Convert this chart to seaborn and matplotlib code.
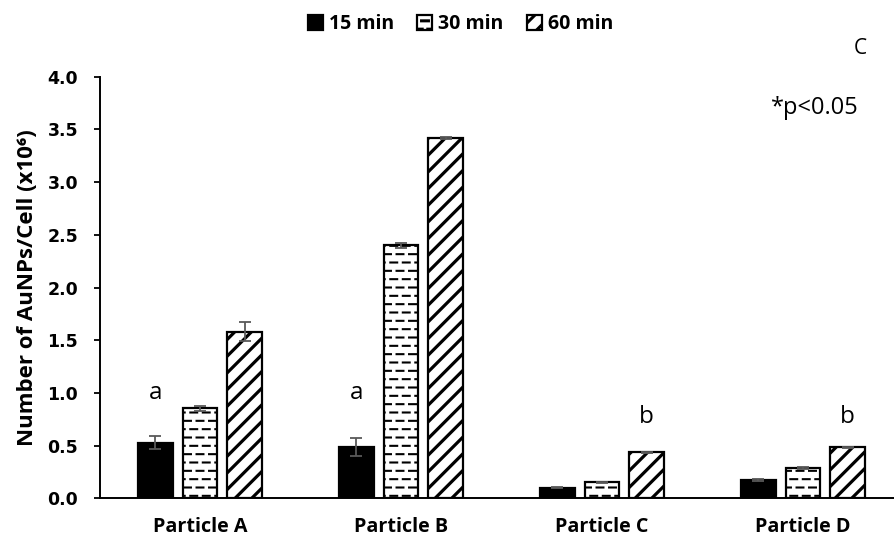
import numpy as np
import pandas as pd
import matplotlib
matplotlib.use("Agg")
import matplotlib.pyplot as plt
import matplotlib.hatch as mhatch
from matplotlib.path import Path
import seaborn as sns

# ---------------- data ----------------
particles = ["Particle A", "Particle B", "Particle C", "Particle D"]
times = ["15 min", "30 min", "60 min"]
t15 = [0.53, 0.49, 0.10, 0.175]
t30 = [0.855, 2.40, 0.155, 0.29]
t60 = [1.58, 3.42, 0.44, 0.485]
e15 = [0.06, 0.085, 0.005, 0.01]
e30 = [0.025, 0.02, 0.005, 0.01]
e60 = [0.09, 0.01, 0.005, 0.005]
sig_letters = ["a", "a", "b", "b"]
sig_series = ["15 min", "15 min", "60 min", "60 min"]
sig_y = [1.0, 1.0, 0.77, 0.77]
y_ticks = [0.0, 0.5, 1.0, 1.5, 2.0, 2.5, 3.0, 3.5, 4.0]

values = {"15 min": t15, "30 min": t30, "60 min": t60}
errors = {"15 min": e15, "30 min": e30, "60 min": e60}
df = pd.DataFrame(
    [(p, t, values[t][i]) for t in times for i, p in enumerate(particles)],
    columns=["particle", "time", "value"],
)


# ---------------- dashed horizontal hatch (Excel-like pattern) ----------------
class DashedHorizontalHatch(mhatch.HatchPatternBase):
    def __init__(self, hatch, density):
        n_rows = int((hatch.count("-") + hatch.count("+")) * density)
        n_cols = 8
        period = 1.0 / n_cols
        dash = period * 0.55
        segs = []
        for i in range(n_rows):
            y = (i + 0.5) / n_rows
            shift = 0.5 * period * (i % 2)
            for j in range(n_cols):
                c = (j + 0.5) * period + shift
                s = (c - dash / 2) % 1.0
                e = s + dash
                if e <= 1.0:
                    segs.append((s, e, y))
                else:
                    segs.append((s, 1.0, y))
                    segs.append((0.0, e - 1.0, y))
        self.segs = segs
        self.num_vertices = len(segs) * 2

    def set_vertices_and_codes(self, vertices, codes):
        for k, (s, e, y) in enumerate(self.segs):
            vertices[2 * k] = (s, y)
            vertices[2 * k + 1] = (e, y)
            codes[2 * k] = Path.MOVETO
            codes[2 * k + 1] = Path.LINETO


mhatch._hatch_types[0] = DashedHorizontalHatch

# ---------------- style ----------------
sns.set_theme(style="ticks")
plt.rcParams["font.family"] = ["Open Sans", "DejaVu Sans"]
plt.rcParams["text.color"] = "black"
plt.rcParams["axes.labelcolor"] = "black"
plt.rcParams["hatch.linewidth"] = 2.2
plt.rcParams["hatch.color"] = "black"

fig = plt.figure(figsize=(8.94, 5.40), dpi=100)
ax = fig.add_axes([0.1113, 0.0769, 0.8887, 0.781])

palette = {"15 min": "black", "30 min": "white", "60 min": "white"}
sns.barplot(
    data=df, x="particle", y="value", hue="time",
    order=particles, hue_order=times, palette=palette,
    width=0.665, gap=0.22, saturation=1, errorbar=None,
    edgecolor="black", linewidth=1.6, legend=False, ax=ax,
)

hatches = {"15 min": "", "30 min": "--", "60 min": "//"}
hatch_lw = {"15 min": 1.0, "30 min": 1.5, "60 min": 2.3}
for cont, t in zip(ax.containers, times):
    for p in cont.patches:
        p.set_hatch(hatches[t])
        if hasattr(p, "set_hatch_linewidth"):
            p.set_hatch_linewidth(hatch_lw[t])
    xs = [p.get_x() + p.get_width() / 2 for p in cont.patches]
    ys = [p.get_height() for p in cont.patches]
    ax.errorbar(xs, ys, yerr=errors[t], fmt="none", ecolor="#595959",
                elinewidth=1.3, capsize=4.5, capthick=1.3, zorder=5)

# significance letters
cont_by_time = dict(zip(times, ax.containers))
for i, (letter, t, yv) in enumerate(zip(sig_letters, sig_series, sig_y)):
    p = cont_by_time[t].patches[i]
    ax.text(p.get_x() + p.get_width() / 2, yv, letter, ha="center", va="center",
            fontsize=17.5, color="black")

# axes
ax.set_xlim(-0.5, 3.453)
ax.set_ylim(0, 4.0)
ax.set_yticks(y_ticks)
ax.set_yticklabels([f"{v:.1f}" for v in y_ticks],
                   fontdict={"family": "DejaVu Sans", "weight": "bold", "size": 12.5})
for lab in ax.get_xticklabels():
    lab.set_fontweight("bold")
ax.tick_params(axis="y", direction="out", length=4.3, width=1.3, pad=11,
               colors="black")
ax.tick_params(axis="x", length=0, pad=13.5, labelsize=14.2, colors="black")
ax.set_xlabel("")
ax.set_ylabel("Number of AuNPs/Cell (x10\u2076)", fontsize=16, fontweight="bold",
              color="black")
ax.yaxis.set_label_coords(-0.077, 0.5)
for side in ["top", "right"]:
    ax.spines[side].set_visible(False)
for side in ["left", "bottom"]:
    ax.spines[side].set_linewidth(1.4)
    ax.spines[side].set_color("black")

# legend
leg = ax.legend(ax.containers, times, loc="center", bbox_to_anchor=(0.515, 0.955),
                bbox_transform=fig.transFigure, ncol=3, frameon=False,
                handlelength=0.77, handleheight=0.77, handletextpad=0.3,
                columnspacing=1.2, prop={"weight": "bold", "size": 14},
                labelcolor="black")

fig.text(0.962, 0.911, "C", ha="center", va="center", fontsize=15, color="black")
fig.text(0.912, 0.800, "*p<0.05", ha="center", va="center", fontsize=17,
         color="black")

fig.savefig("out.png", dpi=100)
